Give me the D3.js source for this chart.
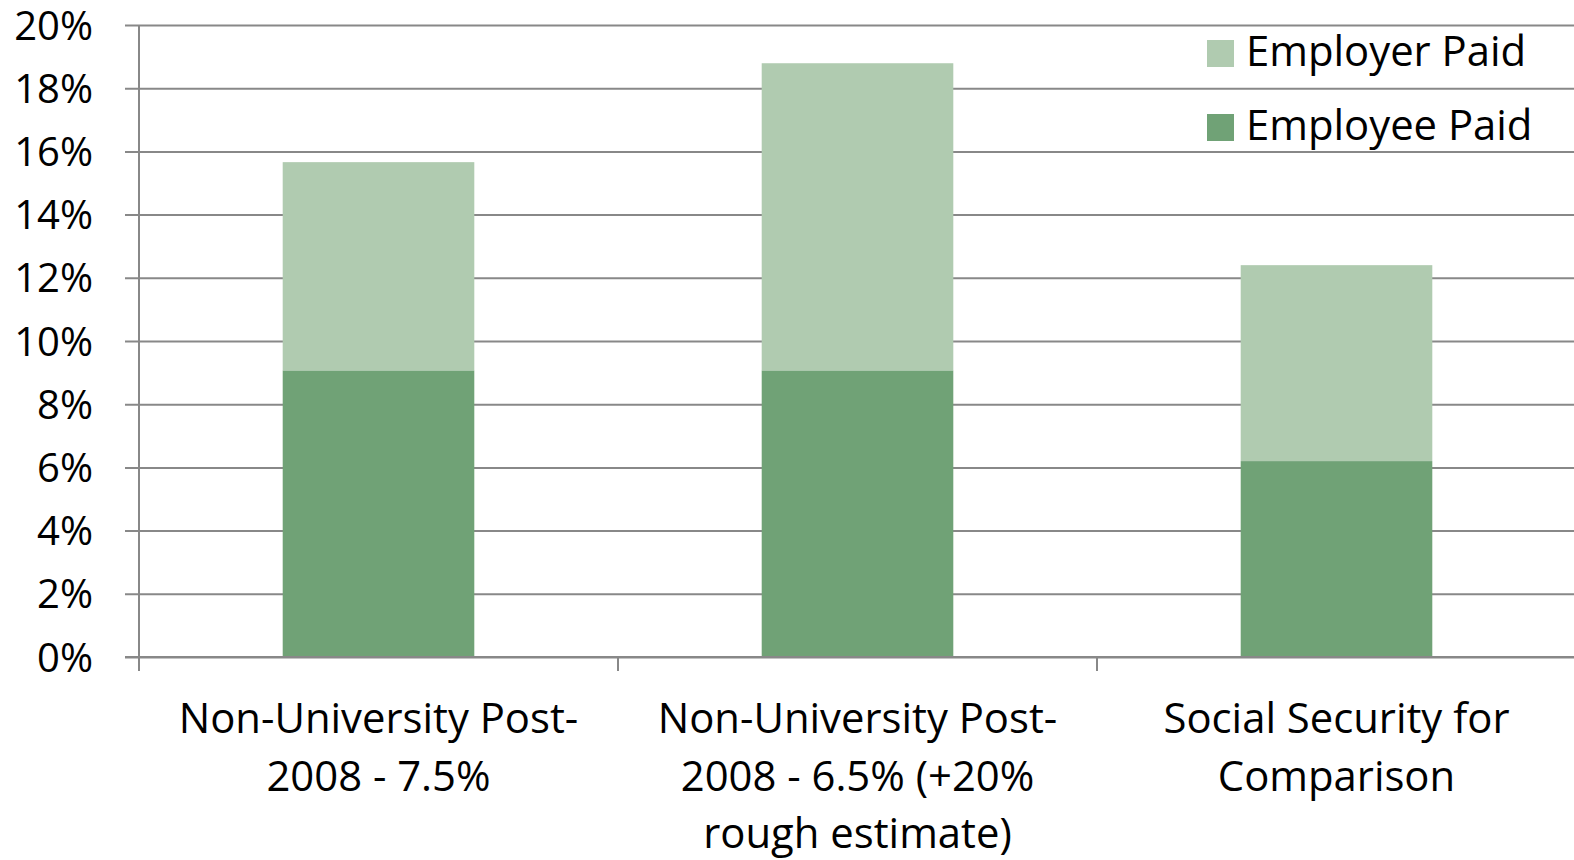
<!DOCTYPE html>
<html>
<head>
<meta charset="utf-8">
<script src="https://cdn.jsdelivr.net/npm/d3@7"></script>
<style>
  html, body { margin: 0; padding: 0; background: #fff; }
  svg text { font-family: "Open Sans", "Noto Sans", sans-serif; fill: #000; }
</style>
</head>
<body>
<svg id="chart" width="1574" height="860"></svg>
<script>
// ---- data ----
const categories = ["Non-University Post-2008 - 7.5%", "Non-University Post-2008 - 6.5% (+20% rough estimate)", "Social Security for Comparison"];
const categoryLines = [
  ["Non-University Post-", "2008 - 7.5%"],
  ["Non-University Post-", "2008 - 6.5% (+20%", "rough estimate)"],
  ["Social Security for", "Comparison"]
];
const employeePaid = [0.0907, 0.0907, 0.062];
const employerPaid = [0.0659, 0.0972, 0.062];
const seriesNames = ["Employee Paid", "Employer Paid"];
const yTicks = [0, 0.02, 0.04, 0.06, 0.08, 0.10, 0.12, 0.14, 0.16, 0.18, 0.20];

// ---- layout ----
const svg = d3.select("#chart");
const plotLeft = 139, plotRight = 1576, plotTop = 25, plotBottom = 657;
const colors = { "Employee Paid": "#70a276", "Employer Paid": "#b0cbb0" };
const gridColor = "#888888";

const x = d3.scaleBand().domain(categories).range([plotLeft, plotRight]).paddingInner(0.6).paddingOuter(0.3);
const y = d3.scaleLinear().domain([0, 0.20]).range([plotBottom, plotTop]);

// gridlines + y labels
const yAxis = d3.axisLeft(y).tickValues(yTicks).tickFormat(d3.format(".0%"))
  .tickSize(plotRight - 125).tickPadding(32);
const gy = svg.append("g").attr("transform", `translate(${plotRight},0)`).call(yAxis);
gy.select(".domain").remove();
gy.selectAll(".tick line").attr("stroke", gridColor).attr("stroke-width", 2);
gy.selectAll(".tick text").attr("font-size", 40).attr("fill", "#000")
  .attr("font-family", "'Open Sans', sans-serif").attr("dy", "0.35em");

// stacked bars
const rows = categories.map((c, i) => ({ cat: c, "Employee Paid": employeePaid[i], "Employer Paid": employerPaid[i] }));
const stack = d3.stack().keys(seriesNames)(rows);
svg.append("g").selectAll("g").data(stack).join("g")
  .attr("fill", d => colors[d.key])
  .selectAll("rect").data(d => d).join("rect")
  .attr("x", d => x(d.data.cat))
  .attr("width", x.bandwidth())
  .attr("y", d => y(d[1]))
  .attr("height", d => y(d[0]) - y(d[1]));

// axes lines
svg.append("line").attr("x1", plotLeft).attr("x2", plotLeft).attr("y1", plotTop).attr("y2", plotBottom + 14)
  .attr("stroke", gridColor).attr("stroke-width", 2);
svg.append("line").attr("x1", 125).attr("x2", plotRight).attr("y1", plotBottom).attr("y2", plotBottom)
  .attr("stroke", gridColor).attr("stroke-width", 2);
// category boundary ticks
const step = x.step();
const boundaries = d3.range(categories.length).map(i => plotLeft + i * step).slice(1);
svg.append("g").selectAll("line").data(boundaries).join("line")
  .attr("x1", d => d).attr("x2", d => d).attr("y1", plotBottom).attr("y2", plotBottom + 14)
  .attr("stroke", gridColor).attr("stroke-width", 2);

// category labels
const lab = svg.append("g").selectAll("text").data(categories).join("text")
  .attr("text-anchor", "middle").attr("font-size", 41.8)
  .attr("x", d => x(d) + x.bandwidth() / 2)
  .attr("y", 733);
lab.each(function(d, i) {
  d3.select(this).selectAll("tspan").data(categoryLines[i]).join("tspan")
    .attr("x", x(d) + x.bandwidth() / 2)
    .attr("dy", (t, j) => j === 0 ? 0 : 57.5)
    .text(t => t);
});

// legend
const legendItems = ["Employer Paid", "Employee Paid"];
const lg = svg.append("g").selectAll("g").data(legendItems).join("g")
  .attr("transform", (d, i) => `translate(1207,${40 + i * 74})`);
lg.append("rect").attr("width", 27).attr("height", 27).attr("fill", d => colors[d]);
lg.append("text").attr("x", 39).attr("y", 26).attr("font-size", 41.8).text(d => d);
</script>
</body>
</html>
